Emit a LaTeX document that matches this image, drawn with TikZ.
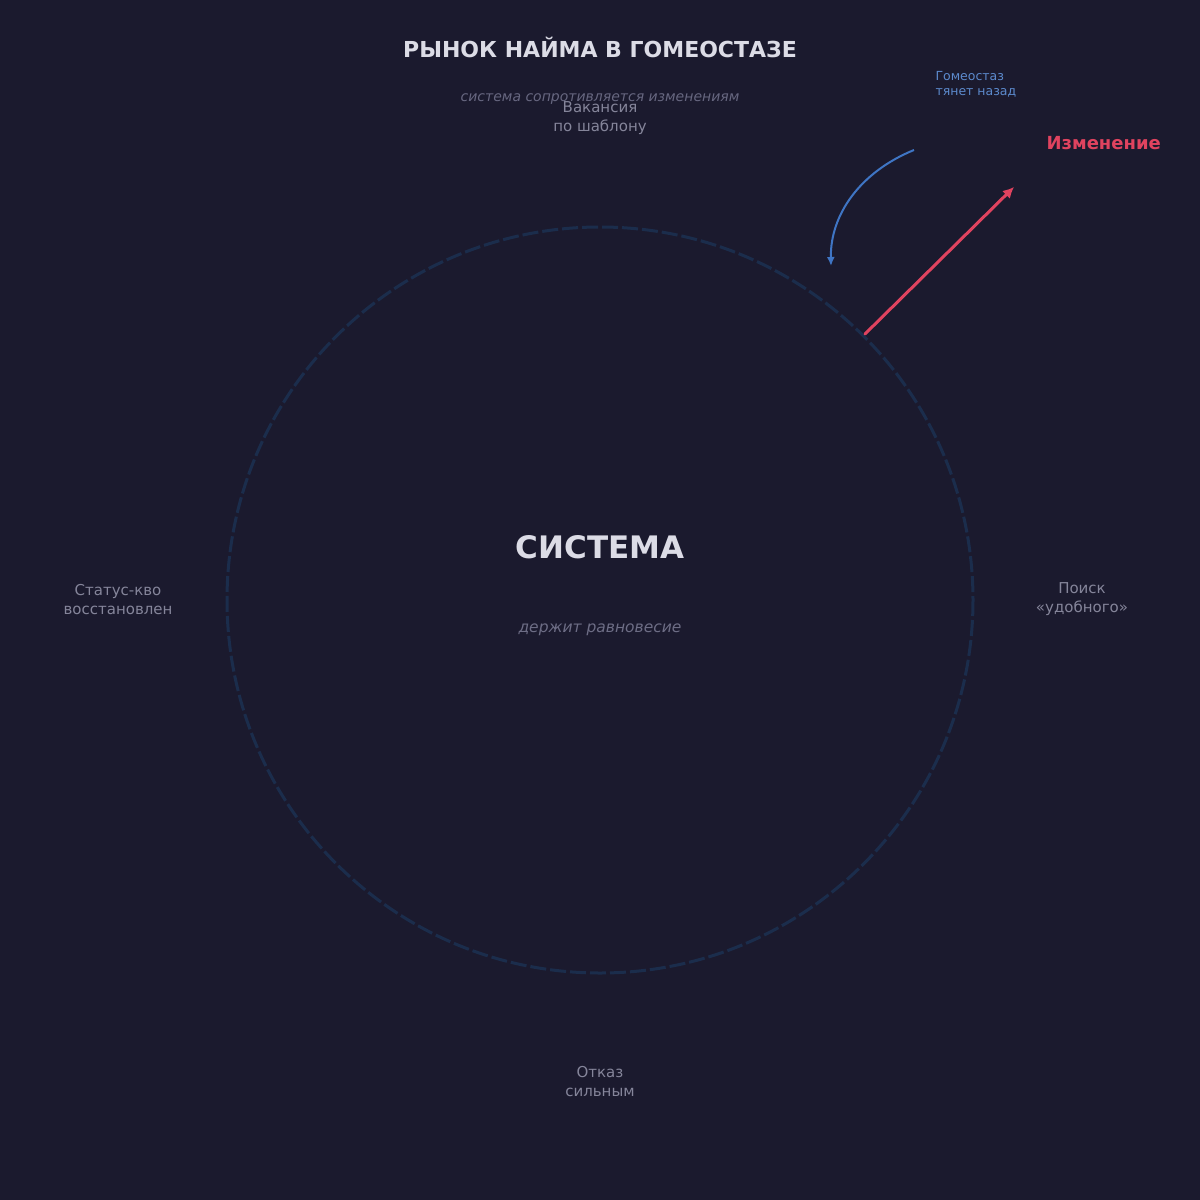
\documentclass[tikz,border=0pt]{standalone}
\usepackage{fontspec}
\setmainfont{DejaVu Sans}
\usetikzlibrary{arrows.meta}
\definecolor{bgcol}{HTML}{1B1A2E}
\definecolor{titlecol}{HTML}{DCDCE6}
\definecolor{subcol}{HTML}{676780}
\definecolor{labcol}{HTML}{85859A}
\definecolor{ringcol}{HTML}{1B2D4C}
\definecolor{pullcol}{HTML}{3F75C4}
\definecolor{pushcol}{HTML}{E0435F}
\begin{document}
\begin{tikzpicture}[x=1pt,y=-1pt]
\tikzset{
    title/.style={font=\bfseries\fontsize{22}{26}\selectfont, text=titlecol},
    subtitle/.style={font=\itshape\fontsize{14}{17}\selectfont, text=subcol},
    stage/.style={font=\fontsize{15}{19}\selectfont, text=labcol, align=center},
    core/.style={font=\bfseries\fontsize{31}{36}\selectfont, text=titlecol},
    corenote/.style={font=\itshape\fontsize{15.5}{18}\selectfont, text=subcol!80!labcol},
    ring/.style={line width=3pt, color=ringcol, dash pattern=on 16pt off 4pt},
    pull/.style={line width=2pt, color=pullcol, -{Latex[length=9pt,width=8pt]}},
    push/.style={line width=3pt, color=pushcol, line cap=round, -{Latex[length=11pt,width=11pt]}}}
\def\rring{373}

\fill[bgcol] (0,0) rectangle (1200,1200);

\node[title] (title) at (600,47.5) {РЫНОК НАЙМА В ГОМЕОСТАЗЕ};
\node[subtitle] (sub) at (600,99) {система сопротивляется изменениям};

\draw[ring] (600,600) circle (\rring);

\node[core] (sys) at (600,547) {СИСТЕМА};
\node[corenote] (note) at (600,630) {держит равновесие};

\node[stage] (top) at (600,118.5) {Вакансия\\по шаблону};
\node[stage] (right) at (1082,599.5) {Поиск\\«удобного»};
\node[stage] (bottom) at (600,1081.5) {Отказ\\сильным};
\node[stage] (left) at (118,599.5) {Статус-кво\\восстановлен};

\path (865,334) coordinate (P1);
\path (1014,187) coordinate (P2);
\draw[push] (P1) -- (P2);
\node[font=\bfseries\fontsize{18}{21}\selectfont, text=pushcol, anchor=west] (change) at (1043,143) {Изменение};

\path (914,150) coordinate (B1);
\path (831,266) coordinate (B2);
\draw[pull] (B1) .. controls (860,172) and (830,215) .. (B2);
\node[font=\fontsize{12.5}{15}\selectfont, text=pullcol!85!white, align=left, anchor=west] (back) at (932,84) {Гомеостаз\\тянет назад};

\end{tikzpicture}
\end{document}
